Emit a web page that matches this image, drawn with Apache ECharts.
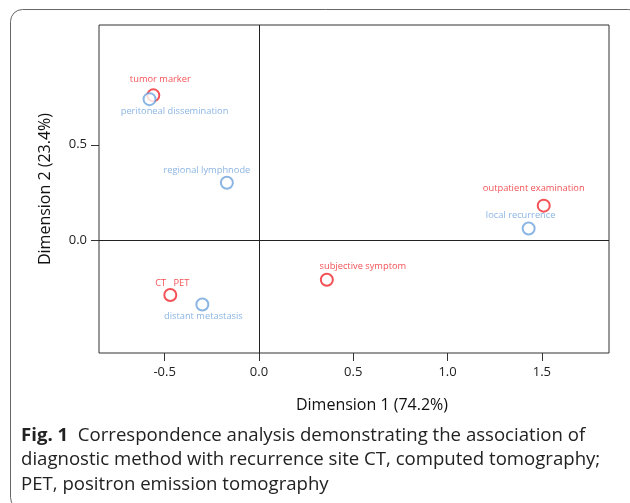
<!DOCTYPE html>
<html>
<head>
<meta charset="utf-8">
<script src="https://cdn.jsdelivr.net/npm/echarts@6/dist/echarts.min.js"></script>
<style>
  html, body { margin: 0; padding: 0; background: #fff; }
  #chart { width: 630px; height: 503px; }
</style>
</head>
<body>
<div id="chart"></div>
<script>
// diagnostic method (red) points
var methodNames = ['tumor marker', 'outpatient examination', 'subjective symptom', 'CT   PET'];
var methodDim1 = [-0.56, 1.51, 0.36, -0.47];
var methodDim2 = [0.76, 0.18, -0.21, -0.29];
// recurrence site (blue) points
var siteNames = ['peritoneal dissemination', 'regional lymphnode', 'local recurrence', 'distant metastasis'];
var siteDim1 = [-0.58, -0.17, 1.43, -0.30];
var siteDim2 = [0.74, 0.30, 0.06, -0.34];
// tick labels
var xTicks = [-0.5, 0, 0.5, 1.0, 1.5];
var yTicks = [0, 0.5];

// label offsets from the point centre (layout only)
var methodOffsets = [[7, -16], [-10, -17], [36, -13], [2, -12]];
var siteOffsets = [[25, 12], [-20, -12], [-8, -13], [1, 12]];

var RED = '#f0262b';
var BLUE = '#6ea3dc';

function buildData(names, xs, ys, offs) {
	var out = [];
	for (var i = 0; i < names.length; i++) {
		out.push({
			name: names[i],
			value: [xs[i], ys[i]],
			label: { offset: offs[i] }
		});
	}
	return out;
}

var chart = echarts.init(document.getElementById('chart'));
chart.setOption({
	animation: false,
	grid: {
		left: 99, top: 25, right: 21, bottom: 150,
		show: true, borderColor: '#333', borderWidth: 1
	},
	xAxis: {
		type: 'value',
		min: -0.848, max: 1.856,
		name: 'Dimension 1 (74.2%)',
		nameLocation: 'middle',
		nameGap: 44,
		nameTextStyle: { fontFamily: 'Open Sans', fontSize: 16, color: '#111', padding: [0, 0, 0, 36] },
		axisLine: { show: false, onZero: false },
		splitLine: { show: false },
		axisTick: { show: true, length: 8, lineStyle: { color: '#333' }, customValues: xTicks },
		axisLabel: {
			fontFamily: 'Open Sans', fontSize: 13, color: '#222', margin: 13,
			customValues: xTicks,
			formatter: function (v) { return v.toFixed(1); }
		}
	},
	yAxis: {
		type: 'value',
		min: -0.595, max: 1.13,
		name: 'Dimension 2 (23.4%)',
		nameLocation: 'middle',
		nameGap: 46,
		nameTextStyle: { fontFamily: 'Open Sans', fontSize: 16, color: '#111' },
		axisLine: { show: false, onZero: false },
		splitLine: { show: false },
		axisTick: { show: true, length: 8, lineStyle: { color: '#333' }, customValues: yTicks },
		axisLabel: {
			fontFamily: 'Open Sans', fontSize: 13, color: '#222', margin: 12,
			customValues: yTicks,
			formatter: function (v) { return v.toFixed(1); }
		}
	},
	series: [{
		name: 'diagnostic method',
		type: 'scatter',
		symbol: 'emptyCircle',
		symbolSize: 12,
		itemStyle: { color: RED, borderColor: RED, borderWidth: 1.1 },
		label: {
			show: true, position: 'inside', formatter: '{b}',
			fontFamily: 'Open Sans', fontSize: 9.3, color: RED
		},
		data: buildData(methodNames, methodDim1, methodDim2, methodOffsets),
		markLine: {
			silent: true, symbol: 'none',
			label: { show: false },
			lineStyle: { color: '#222', width: 1, type: 'solid' },
			data: [{ xAxis: 0 }, { yAxis: 0 }]
		}
	}, {
		name: 'recurrence site',
		type: 'scatter',
		symbol: 'emptyCircle',
		symbolSize: 12,
		itemStyle: { color: BLUE, borderColor: BLUE, borderWidth: 1.1 },
		label: {
			show: true, position: 'inside', formatter: '{b}',
			fontFamily: 'Open Sans', fontSize: 9.3, color: BLUE
		},
		data: buildData(siteNames, siteDim1, siteDim2, siteOffsets)
	}],
	graphic: [{
		type: 'rect',
		shape: { x: 10.5, y: 9.5, width: 630, height: 500, r: 12 },
		style: { fill: 'none', stroke: '#666', lineWidth: 1 },
		silent: true
	}, {
		type: 'text',
		left: 21, top: 423,
		style: {
			text: '{b|Fig. 1}  Correspondence analysis demonstrating the association of\ndiagnostic method with recurrence site CT, computed tomography;\nPET, positron emission tomography',
			font: '18.6px "Open Sans"',
			fill: '#222',
			lineHeight: 24.5,
			rich: {
				b: { fontFamily: 'Open Sans', fontSize: 18.6, fontWeight: 'bold', fill: '#222', lineHeight: 24.5 }
			}
		}
	}]
});
</script>
</body>
</html>
